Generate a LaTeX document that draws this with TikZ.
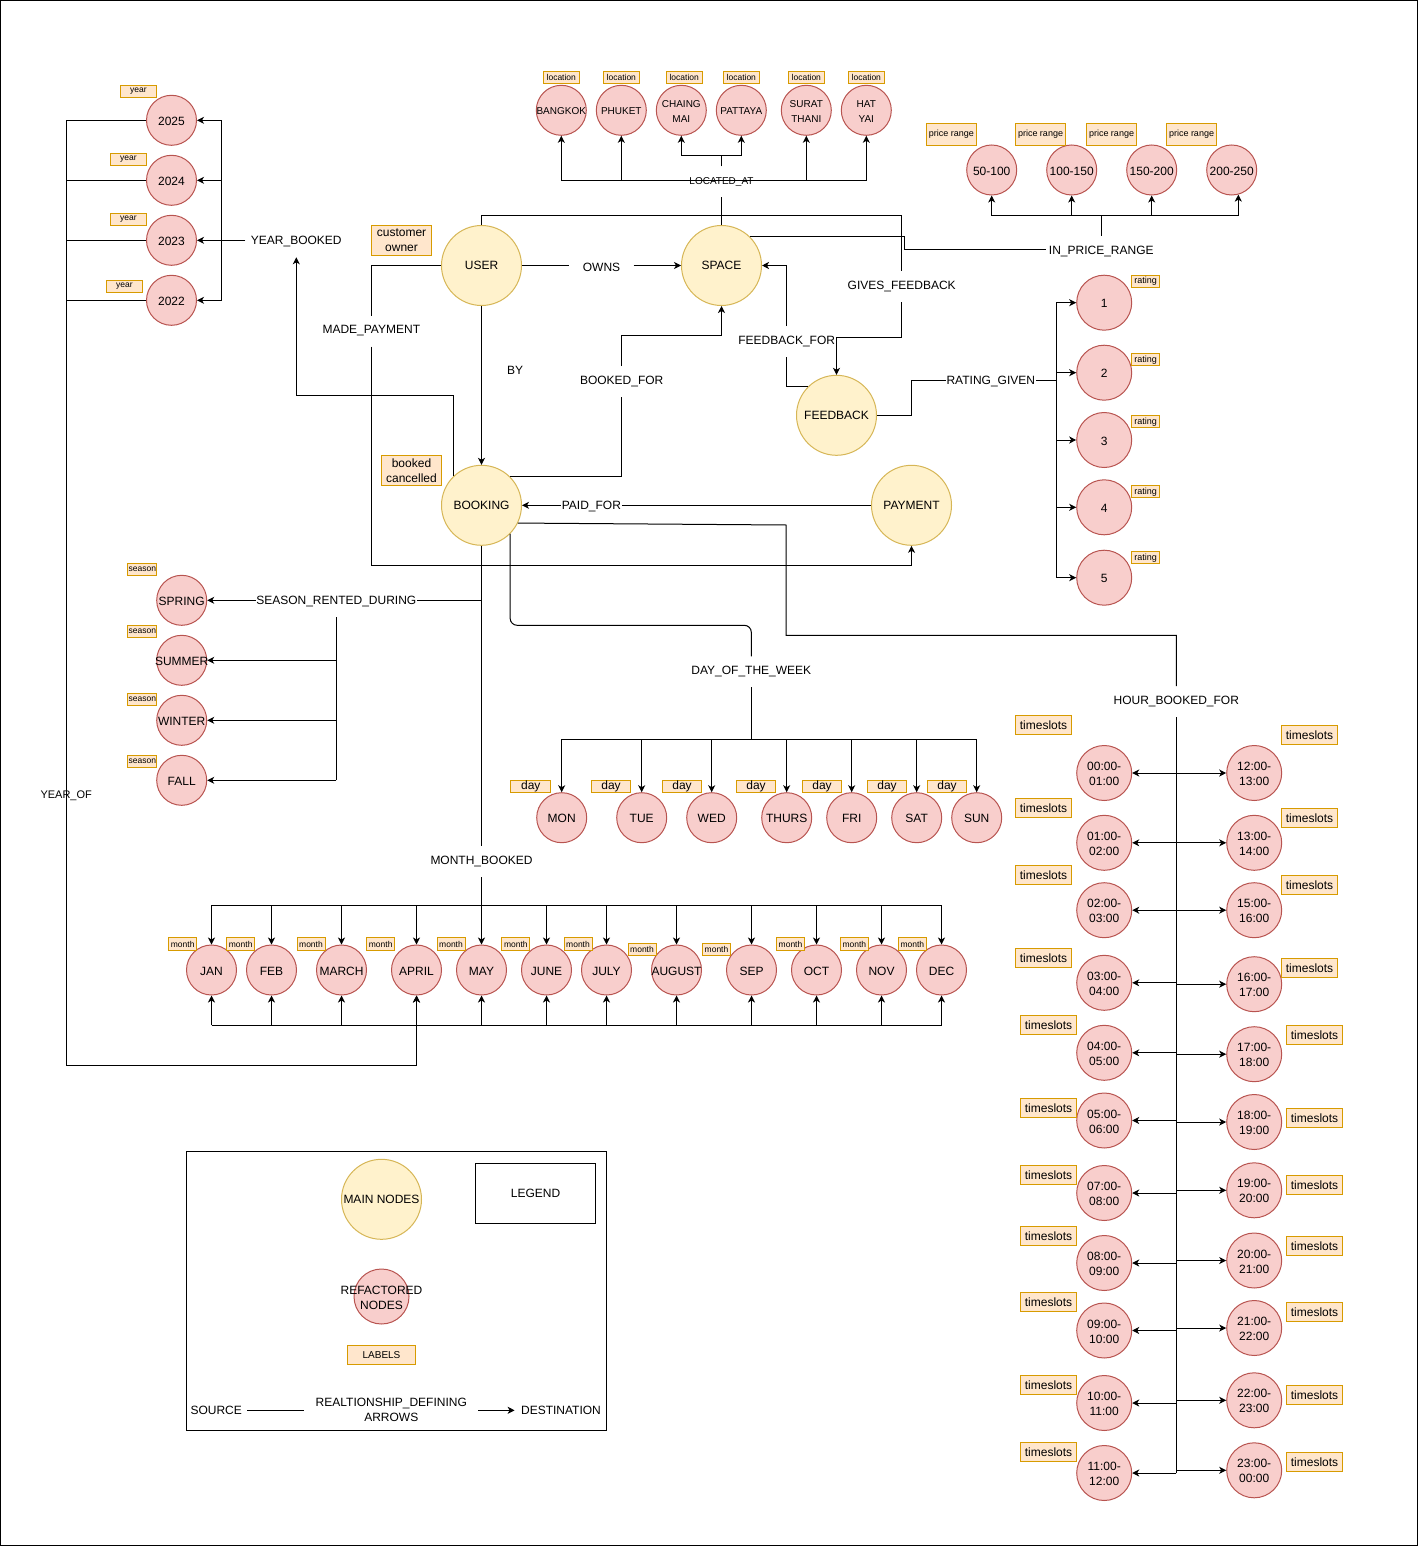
\documentclass[tikz,border=0pt]{standalone}
\usepackage{fontspec}
\setmainfont{Liberation Sans}
\usetikzlibrary{arrows.meta}
\newcommand\ftL{\fontsize{12}{15}\selectfont}
\newcommand\ftM{\fontsize{10}{15}\selectfont}
\newcommand\ftY{\fontsize{11}{13}\selectfont}
\newcommand\ftS{\fontsize{8.5}{10}\selectfont}
\newcommand\ftP{\fontsize{9}{10}\selectfont}
\definecolor{mainF}{HTML}{FFF2CC}
\definecolor{mainD}{HTML}{D6B656}
\definecolor{refF}{HTML}{F8CECC}
\definecolor{refD}{HTML}{B85450}
\definecolor{tagF}{HTML}{FFE6CC}
\definecolor{tagD}{HTML}{D79B00}
\begin{document}
\begin{tikzpicture}[x=1pt,y=-1pt,line width=1pt,
  arr/.style={-{Stealth[length=7pt,width=7pt,inset=2pt]}},
  ctext/.style={font=\ftL, align=center, inner sep=0pt, yshift=-1pt},
  mainnode/.style={circle, draw=mainD, fill=mainF, minimum size=80pt, inner sep=0pt, font=\ftL},
  rn/.style={circle, draw=refD, fill=refF, minimum size=50pt, inner sep=0pt, label={[ctext]center:{#1}}},
  rnl/.style={rn={#1}, minimum size=55pt},
  rnm/.style={circle, draw=refD, fill=refF, minimum size=50pt, inner sep=0pt, label={[ctext, font=\ftM]center:{#1}}},
  tag/.style={draw=tagD, fill=tagF, inner sep=0pt, font=\ftS},
  rel/.style={font=\ftL, inner xsep=1pt, inner ysep=0pt, minimum height=30pt, yshift=-1.5pt},
]
\useasboundingbox (0,0) rectangle (1418,1546);
\draw (0.5,0.5) rectangle (1417.5,1545.5);

% ---------- main entities ----------
\node[mainnode] (user) at (481.5,265.5) {USER};
\node[mainnode] (space) at (721.5,265.5) {SPACE};
\node[mainnode] (feedback) at (836.5,415.3) {FEEDBACK};
\node[mainnode] (booking) at (481.5,505.3) {BOOKING};
\node[mainnode] (payment) at (911.5,505.3) {PAYMENT};
\node[tag, font=\ftL, align=center, minimum width=60.3pt, minimum height=30pt] (tgUser) at (401.5,240.3) {customer\\owner};
\node[tag, font=\ftL, align=center, minimum width=60.3pt, minimum height=30pt] (tgBook) at (411.5,470.7) {booked\\cancelled};

% ---------- years ----------
\node[rn={2025}] (y2025) at (171.5,120.3) {};
\node[rn={2024}] (y2024) at (171.5,180.3) {};
\node[rn={2023}] (y2023) at (171.5,240.3) {};
\node[rn={2022}] (y2022) at (171.5,300.3) {};
\node[tag, minimum width=36.4pt, minimum height=12pt] (ty2025) at (138.5,91.2) {year};
\node[tag, minimum width=36.4pt, minimum height=12pt] (ty2024) at (128.5,159.3) {year};
\node[tag, minimum width=36.4pt, minimum height=12pt] (ty2023) at (128.5,219.3) {year};
\node[tag, minimum width=36.4pt, minimum height=12pt] (ty2022) at (124.5,286.3) {year};

% ---------- locations ----------
\node[rnm={BANGKOK}] (bkk) at (561.3,110.3) {};
\node[rnm={PHUKET}] (phu) at (621.3,110.3) {};
\node[rnm={CHAING\\MAI}] (chm) at (681.3,110.3) {};
\node[rnm={PATTAYA}] (pat) at (741.3,110.3) {};
\node[rnm={SURAT\\THANI}] (sur) at (806.3,110.3) {};
\node[rnm={HAT\\YAI}] (hat) at (866.3,110.3) {};
\foreach \lx/\nm in {561.3/bkk,621.3/phu,684.2/chm,741.3/pat,806.3/sur,866.3/hat}
  \node[tag, minimum width=36pt, minimum height=11.6pt] (tl\nm) at (\lx,77.5) {location};

% ---------- price ranges ----------
\node[rn={50-100}] (p1) at (991.7,170) {};
\node[rn={100-150}] (p2) at (1071.7,170) {};
\node[rn={150-200}] (p3) at (1151.7,170) {};
\node[rn={200-250}] (p4) at (1231.7,170) {};
\foreach \px/\k in {951.3/1,1040.5/2,1111.5/3,1191.5/4}
  \node[tag, font=\ftP, minimum width=50.4pt, minimum height=22pt] (tp\k) at (\px,134.3) {price range};

% ---------- ratings ----------
\node[rnl={1}] (r1) at (1104.2,302.7) {};
\node[rnl={2}] (r2) at (1104.2,372.7) {};
\node[rnl={3}] (r3) at (1104.2,440) {};
\node[rnl={4}] (r4) at (1104.2,507.3) {};
\node[rnl={5}] (r5) at (1104.2,577.7) {};
\foreach \ry/\k in {281.5/1,359.7/2,421.7/3,491.7/4,557.7/5}
  \node[tag, font=\ftP, minimum width=27.7pt, minimum height=12.3pt] (tr\k) at (1145.5,\ry) {rating};

% ---------- seasons ----------
\node[rn={SPRING}] (spr) at (181.7,600.3) {};
\node[rn={SUMMER}] (sum) at (181.7,660.3) {};
\node[rn={WINTER}] (win) at (181.7,720.3) {};
\node[rn={FALL}] (fal) at (181.7,780.3) {};
\foreach \sy/\k in {569.5/1,631.5/2,699.5/3,761.5/4}
  \node[tag, minimum width=28.7pt, minimum height=12.3pt] (ts\k) at (142.3,\sy) {season};

% ---------- days ----------
\node[rn={MON}] (mon) at (561.7,817.7) {};
\node[rn={TUE}] (tue) at (641.7,817.7) {};
\node[rn={WED}] (wed) at (711.7,817.7) {};
\node[rn={THURS}] (thu) at (786.7,817.7) {};
\node[rn={FRI}] (fri) at (851.7,817.7) {};
\node[rn={SAT}] (sat) at (916.7,817.7) {};
\node[rn={SUN}] (sun) at (976.7,817.7) {};
\foreach \dx/\k in {530.8/1,611/2,682/3,756/4,822/5,887/6,947/7}
  \node[tag, font=\ftL, minimum width=39.7pt, minimum height=12.3pt] (td\k) at (\dx,786.8) {day};

% ---------- months ----------
\node[rn={JAN}] (jan) at (211.5,970) {};
\node[rn={FEB}] (feb) at (271.5,970) {};
\node[rn={MARCH}] (mar) at (341.5,970) {};
\node[rn={APRIL}] (apr) at (416.5,970) {};
\node[rn={MAY}] (may) at (481.5,970) {};
\node[rn={JUNE}] (jun) at (546.5,970) {};
\node[rn={JULY}] (jul) at (606.5,970) {};
\node[rn={AUGUST}] (aug) at (676.5,970) {};
\node[rn={SEP}] (sep) at (751.5,970) {};
\node[rn={OCT}] (oct) at (816.5,970) {};
\node[rn={NOV}] (nov) at (881.5,970) {};
\node[rn={DEC}] (dec) at (941.5,970) {};
\foreach \mx/\my/\k in {182.7/944/1,240.7/944/2,311/944/3,380.7/944/4,451/944/5,515.9/944/6,578/944/7,642/949.5/8,716.5/949.5/9,790.5/944/10,854.4/944/11,912.4/944/12}
  \node[tag, minimum width=28pt, minimum height=12.5pt] (tm\k) at (\mx,\my) {month};

% ---------- hour slots ----------
\node[rnl={00:00-\\01:00}] (hL1) at (1104.2,773) {};
\node[rnl={01:00-\\02:00}] (hL2) at (1104.2,842.8) {};
\node[rnl={02:00-\\03:00}] (hL3) at (1104.2,910.2) {};
\node[rnl={03:00-\\04:00}] (hL4) at (1104.2,982.8) {};
\node[rnl={04:00-\\05:00}] (hL5) at (1104.2,1052.8) {};
\node[rnl={05:00-\\06:00}] (hL6) at (1104.2,1120.5) {};
\node[rnl={07:00-\\08:00}] (hL7) at (1104.2,1193) {};
\node[rnl={08:00-\\09:00}] (hL8) at (1104.2,1263) {};
\node[rnl={09:00-\\10:00}] (hL9) at (1104.2,1330.5) {};
\node[rnl={10:00-\\11:00}] (hL10) at (1104.2,1403) {};
\node[rnl={11:00-\\12:00}] (hL11) at (1104.2,1473) {};
\node[rnl={12:00-\\13:00}] (hR1) at (1254.2,773) {};
\node[rnl={13:00-\\14:00}] (hR2) at (1254.2,842.8) {};
\node[rnl={15:00-\\16:00}] (hR3) at (1254.2,910.2) {};
\node[rnl={16:00-\\17:00}] (hR4) at (1254.2,984.2) {};
\node[rnl={17:00-\\18:00}] (hR5) at (1254.2,1054.2) {};
\node[rnl={18:00-\\19:00}] (hR6) at (1254.2,1122) {};
\node[rnl={19:00-\\20:00}] (hR7) at (1254.2,1190.3) {};
\node[rnl={20:00-\\21:00}] (hR8) at (1254.2,1260.5) {};
\node[rnl={21:00-\\22:00}] (hR9) at (1254.2,1328) {};
\node[rnl={22:00-\\23:00}] (hR10) at (1254.2,1400.3) {};
\node[rnl={23:00-\\00:00}] (hR11) at (1254.2,1470.3) {};
\foreach \tx/\ty/\k in {1043.5/725.2/1,1043.5/808.2/2,1043.5/875.2/3,1043.5/957.8/4,1048.5/1025.2/5,1048.5/1107.8/6,1048.5/1175.2/7,1048.5/1235.8/8,1048.5/1302.2/9,1048.5/1385.2/10,1048.5/1452.2/11,
                        1309.5/735/12,1309.5/818/13,1309.5/885/14,1309.5/968/15,1314.5/1035/16,1314.5/1117.8/17,1314.5/1184.8/18,1314.5/1245.8/19,1314.5/1312.2/20,1314.5/1395.2/21,1314.5/1462.2/22}
  \node[tag, font=\ftL, minimum width=56.4pt, minimum height=19pt] (tt\k) at (\tx,\ty) {timeslots};

% ---------- relationship labels ----------
\node[rel, inner xsep=5pt] (tYB) at (296.3,240.3) {YEAR\_BOOKED};
\node[font=\ftY, yshift=-1.5pt] (tYO) at (66.2,794.7) {YEAR\_OF};
\node[rel, inner xsep=13pt] (tOwns) at (601.5,265.5) {OWNS};
\node[font=\ftL, yshift=-1pt] (tBy) at (515,369.3) {BY};
\node[rel] (tMP) at (371.3,329.5) {MADE\_PAYMENT};
\node[rel] (tGF) at (901.7,285) {GIVES\_FEEDBACK};
\node[rel] (tFF) at (786.7,340) {FEEDBACK\_FOR};
\node[rel] (tBF) at (621.7,380) {BOOKED\_FOR};
\node[rel, font=\ftM] (tLA) at (721.5,180.3) {LOCATED\_AT};
\node[rel, inner xsep=2pt] (tPR) at (1101.3,250) {IN\_PRICE\_RANGE};
\node[rel, inner xsep=0.5pt] (tRG) at (990.8,380.3) {RATING\_GIVEN};
\node[rel, inner xsep=0.5pt] (tPF) at (591.4,505.3) {PAID\_FOR};
\node[rel, inner xsep=0pt] (tSR) at (336.3,600.3) {SEASON\_RENTED\_DURING};
\node[rel] (tDW) at (751.3,670.3) {DAY\_OF\_THE\_WEEK};
\node[rel] (tMB) at (481.5,860) {MONTH\_BOOKED};
\node[rel] (tHB) at (1176.3,700) {HOUR\_BOOKED\_FOR};

% ---------- connectors ----------
% YEAR_BOOKED
\coordinate (ybus) at (221.7,240.3);
\coordinate (ybk) at (296.3,395);
\draw[arr] (tYB.west |- y2023) -- (y2023.east);
\draw (ybus |- y2025) -- (ybus |- y2022);
\draw[arr] (ybus |- y2025) -- (y2025.east);
\draw[arr] (ybus |- y2024) -- (y2024.east);
\draw[arr] (ybus |- y2022) -- (y2022.east);
\draw[arr] (booking.133) |- (ybk) -- (tYB.south);

% YEAR_OF
\coordinate (yl) at (66.7,1065.3);
\draw[arr] (y2025.west) -| (yl) -| (apr.south);
\draw (y2024.west) -- (y2024.west -| yl);
\draw (y2023.west) -- (y2023.west -| yl);
\draw (y2022.west) -- (y2022.west -| yl);

% OWNS, BY
\draw (user.east) -- (tOwns.west |- user.east);
\draw[arr] (tOwns.east |- space.west) -- (space.west);
\draw[arr] (user) -- (booking);

% MADE_PAYMENT
\coordinate (mp) at (371.3,565.3);
\draw (user.west) -| (tMP.north);
\draw[arr] (tMP.south) -- (mp) -| (payment.south);

% GIVES_FEEDBACK
\coordinate (gf1) at (901.7,215.3);
\coordinate (gf2) at (836.5,337.7);
\draw (user.north) |- (gf1) -- (tGF.north);
\draw[arr] (tGF.south) |- (gf2) -- (feedback.north);

% FEEDBACK_FOR
\draw (feedback.135) -| (tFF.south);
\draw[arr] (tFF.north) |- (space.east);

% BOOKED_FOR
\coordinate (bf1) at (721.5,335.7);
\draw (booking.45) -| (tBF.south);
\draw[arr] (tBF.north) |- (bf1) -- (space.south);

% LOCATED_AT
\coordinate (la1) at (721.5,180.3);
\coordinate (la2) at (721.5,155.7);
\draw (space.north) -- (tLA.south);
\foreach \c in {bkk,phu,sur,hat} \draw[arr] (la1) -| (\c.south);
\draw (tLA.north) -- (la2);
\draw[arr] (la2) -| (chm.south);
\draw[arr] (la2) -| (pat.south);

% IN_PRICE_RANGE
\coordinate (ipr1) at (904,250);
\coordinate (pbus) at (1101.3,215.3);
\draw (space.45) -| (ipr1) -- (tPR.west |- ipr1);
\draw (tPR.north) -- (pbus);
\foreach \p in {p1,p2,p3} \draw[arr] (pbus) -| (\p.south);
\draw[arr] (pbus) -| (p4.-75);

% RATING_GIVEN
\coordinate (rg1) at (911.7,380.3);
\coordinate (rbus) at (1056.3,380.3);
\draw (feedback.east) -| (rg1) -- (tRG.west |- rg1);
\draw (tRG.east |- rbus) -- (rbus);
\draw (rbus |- r1) -- (rbus |- r5);
\foreach \k in {1,...,5} \draw[arr] (rbus |- r\k) -- (r\k.west);

% PAID_FOR
\draw (payment.west) -- (tPF.east |- payment.west);
\draw[arr] (tPF.west |- booking.east) -- (booking.east);

% SEASON_RENTED_DURING
\coordinate (sr1) at (481.5,600.3);
\draw (sr1) -- (tSR.east |- sr1);
\draw[arr] (tSR.west |- spr) -- (spr.east);
\draw (tSR.south) -- (tSR.south |- fal);
\foreach \s in {sum,win,fal} \draw[arr] (tSR.south |- \s) -- (\s.east);

% DAY_OF_THE_WEEK
\coordinate (dw1) at (751.3,625.3);
\coordinate (dbus) at (751.3,739.3);
\draw[rounded corners=7pt] (booking.-45) |- (dw1) -- (tDW.north);
\draw (tDW.south) -- (dbus);
\draw (dbus -| mon) -- (dbus -| sun);
\foreach \d in {mon,tue,wed,thu,fri,sat,sun} \draw[arr] (dbus -| \d) -- (\d.north);

% MONTH_BOOKED
\coordinate (mtop) at (481.5,905.3);
\coordinate (mbot) at (481.5,1025.3);
\draw (booking.south) -- (tMB.north);
\draw (tMB.south) -- (mtop);
\draw (mtop -| jan) -- (mtop -| dec);
\draw (mbot -| jan) -- (mbot -| dec);
\foreach \mo in {jan,feb,mar,apr,may,jun,jul,aug,sep,oct,nov,dec} {
  \draw[arr] (mtop -| \mo) -- (\mo.north);
  \draw[arr] (mbot -| \mo) -- (\mo.south);
}

% HOUR_BOOKED_FOR
\coordinate (hb1) at (786.2,525);
\coordinate (hb2) at (1176.3,635.3);
\draw (booking.-26) -- (hb1) |- (hb2) -- (tHB.north);
\draw (tHB.south) -- (tHB.south |- hL11);
\foreach \k in {1,...,11} {
  \draw[arr] (tHB.south |- hL\k) -- (hL\k.east);
  \draw[arr] (tHB.south |- hR\k) -- (hR\k.west);
}

% ---------- legend ----------
\node[draw, minimum width=420.4pt, minimum height=279pt, inner sep=0pt] (lgBox) at (396.5,1291.2) {};
\node[mainnode] (lgMain) at (381.5,1199.3) {MAIN NODES};
\node[draw, minimum width=120.4pt, minimum height=60pt, font=\ftL] (lgLeg) at (535.5,1193.3) {LEGEND};
\node[rnl={REFACTORED\\NODES}] (lgRef) at (381.5,1296.5) {};
\node[tag, font=\ftM, minimum width=68.4pt, minimum height=18.7pt] (lgTag) at (381.5,1354.7) {LABELS};
\node[font=\ftL, inner xsep=5pt] (lgSrc) at (216.2,1410.3) {SOURCE};
\node[font=\ftL, align=center, inner xsep=11pt] (lgRel) at (391.3,1410.3) {REALTIONSHIP\_DEFINING\\ARROWS};
\node[font=\ftL, inner xsep=6pt] (lgDst) at (561,1410.3) {DESTINATION};
\draw (lgSrc.east) -- (lgRel.west);
\draw[arr] (lgRel.east) -- (lgDst.west);
\end{tikzpicture}
\end{document}
